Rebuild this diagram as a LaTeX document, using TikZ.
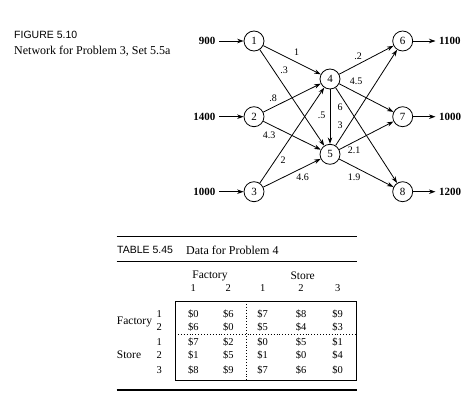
\documentclass[tikz,border=0pt]{standalone}
\usepackage{fontspec}
\setmainfont{Liberation Serif}
\setsansfont{Liberation Sans}
\usetikzlibrary{arrows.meta}
\begin{document}
\begin{tikzpicture}[x=1pt,y=-1pt,
  nd/.style={circle,draw,line width=0.8pt,minimum size=20pt,inner sep=0pt,font=\fontsize{11}{12}\selectfont},
  arr/.style={line width=0.8pt,-{Stealth[length=6.5pt,width=4.5pt]}},
  el/.style={font=\fontsize{10}{11}\selectfont,inner sep=0pt},
  io/.style={font=\bfseries\fontsize{11}{12}\selectfont,inner sep=0pt},
  cell/.style={font=\fontsize{10.5}{12}\selectfont,inner sep=0pt},
  hd/.style={font=\fontsize{11.5}{13}\selectfont,inner sep=0pt}]
\useasboundingbox (0,0) rectangle (474,412);
% caption
\node[anchor=west,inner sep=0pt,font=\sffamily\fontsize{10.5}{12}\selectfont] (figcap) at (14,35) {FIGURE 5.10};
\node[anchor=west,inner sep=0pt,font=\fontsize{12}{13}\selectfont] (figsub) at (14,51) {Network for Problem 3, Set 5.5a};
% nodes
\node[nd] (n1) at (254,41) {1};
\node[nd] (n2) at (254,116.7) {2};
\node[nd] (n3) at (254,191.7) {3};
\node[nd] (n4) at (330,79) {4};
\node[nd] (n5) at (330,154.3) {5};
\node[nd] (n6) at (402.7,41) {6};
\node[nd] (n7) at (402.7,116.7) {7};
\node[nd] (n8) at (402.7,191.7) {8};
% inputs
\node[io,anchor=east] (i1) at (215.5,41) {900};
\node[io,anchor=east] (i2) at (215.5,116.7) {1400};
\node[io,anchor=east] (i3) at (215.5,191.7) {1000};
\coordinate (s1) at (219,41);
\coordinate (s2) at (219,116.7);
\coordinate (s3) at (219,191.7);
\draw[arr] (s1) -- (n1);
\draw[arr] (s2) -- (n2);
\draw[arr] (s3) -- (n3);
% outputs
\node[io,anchor=west] (o1) at (439,41) {1100};
\node[io,anchor=west] (o2) at (439,116.7) {1000};
\node[io,anchor=west] (o3) at (439,191.7) {1200};
\coordinate (e1) at (435.5,41);
\coordinate (e2) at (435.5,116.7);
\coordinate (e3) at (435.5,191.7);
\draw[arr] (n6) -- (e1);
\draw[arr] (n7) -- (e2);
\draw[arr] (n8) -- (e3);
% edges
\draw[arr] (n1) -- (n4);
\draw[arr] (n1) -- (n5);
\draw[arr] (n2) -- (n4);
\draw[arr] (n2) -- (n5);
\draw[arr] (n3) -- (n4);
\draw[arr] (n3) -- (n5);
\draw[arr] (n4) -- (n5);
\draw[arr] (n4) -- (n6);
\draw[arr] (n4) -- (n7);
\draw[arr] (n4) -- (n8);
\draw[arr] (n5) -- (n6);
\draw[arr] (n5) -- (n7);
\draw[arr] (n5) -- (n8);
% edge labels
\node[el] (l14) at (296.7,52.3) {1};
\node[el] (l15) at (284,70) {.3};
\node[el] (l24) at (273,98) {.8};
\node[el] (l25) at (269,135) {4.3};
\node[el] (l46) at (358,56) {.2};
\node[el] (l47) at (356,81) {4.5};
\node[el] (l48) at (340,107) {6};
\node[el] (l45) at (321.7,115) {.5};
\node[el] (l56) at (340,125) {3};
\node[el] (l57) at (354,150) {2.1};
\node[el] (l34) at (283,160) {2};
\node[el] (l35) at (302.7,177.7) {4.6};
\node[el] (l58) at (354,177.7) {1.9};
% table
\coordinate (trl) at (116.7,236.7);
\coordinate (trr) at (356.7,236.7);
\draw[line width=1.3pt] (trl) -- (trr);
\node[anchor=west,inner sep=0pt,font=\sffamily\fontsize{10.5}{12}\selectfont] (tabno) at (117,250) {TABLE 5.45};
\node[anchor=west,inner sep=0pt,font=\fontsize{12}{13}\selectfont] (tabcap) at (186,250) {Data for Problem 4};
\coordinate (mrl) at (116.7,261.7);
\coordinate (mrr) at (356.7,261.7);
\draw[line width=0.6pt] (mrl) -- (mrr);
\node[hd] (hf) at (210,275.7) {Factory};
\node[hd] (hs) at (302.7,275.7) {Store};
\foreach \x/\t [count=\i] in {193.3/1,228.3/2,262.7/1,301/2,337.7/3}
  \node[cell] (c\i) at (\x,288.3) {\t};
\node[draw,line width=1pt,minimum width=181pt,minimum height=79pt,inner sep=0pt] (box) at (265.5,340.5) {};
\coordinate (vt) at (246.7,301);
\coordinate (vb) at (246.7,380);
\draw[dotted,line width=0.9pt] (vt) -- (vb);
\coordinate (hl) at (175,334.3);
\coordinate (hr) at (356,334.3);
\draw[dotted,line width=0.9pt] (hl) -- (hr);
\node[hd,anchor=west] (rf) at (116.7,321.7) {Factory};
\node[hd,anchor=west] (rs) at (116.7,355) {Store};
\foreach \y/\r [count=\j] in {314.3/1,327.3/2,341.7/1,355/2,370/3}
  \node[cell] (r\j) at (159.3,\y) {\r};
\foreach \y/\a/\b/\c/\d/\e [count=\j] in {
  314.3/0/6/7/8/9,
  327.3/6/0/5/4/3,
  341.7/7/2/0/5/1,
  355/1/5/1/0/4,
  370/8/9/7/6/0}{
  \node[cell] (v\j a) at (193.3,\y) {\$\a};
  \node[cell] (v\j b) at (228.3,\y) {\$\b};
  \node[cell] (v\j c) at (262.7,\y) {\$\c};
  \node[cell] (v\j d) at (301,\y) {\$\d};
  \node[cell] (v\j e) at (337.7,\y) {\$\e};
}
\coordinate (brl) at (116.7,390);
\coordinate (brr) at (356.7,390);
\draw[line width=1.3pt] (brl) -- (brr);
\end{tikzpicture}
\end{document}
